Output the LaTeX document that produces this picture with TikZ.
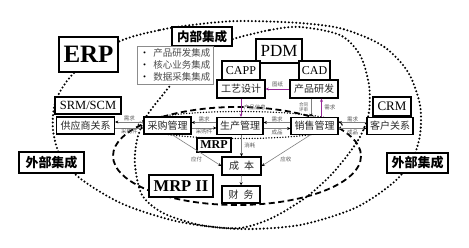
\documentclass[tikz,border=0pt]{standalone}
\usepackage{fontspec}
\setmainfont{Liberation Serif}
\newfontfamily\cjk{Noto Sans CJK SC}
\usetikzlibrary{arrows.meta}
\pgfdeclarelayer{bg}
\pgfsetlayers{bg,main}
\definecolor{pur}{RGB}{150,40,150}
\tikzset{
  box/.style={draw, line width=1.3pt, fill=white, inner sep=0pt, text=black!85,
    font=\cjk\fontsize{10}{12}\selectfont},
  latbox/.style={box, text=black, font=\fontsize{12}{14}\selectfont},
  boldbox/.style={box, line width=1.6pt, text=black, font=\bfseries\fontsize{12}{14}\selectfont},
  cjkbold/.style={box, line width=1.5pt, text=black, font=\cjk\bfseries\fontsize{13}{15}\selectfont},
  lbl/.style={inner sep=0.6pt, text=black!65, font=\cjk\fontsize{5.5}{6}\selectfont},
  garr/.style={draw=black!50, line width=0.6pt, -{Stealth[length=3.2pt,width=3pt,black]}},
  parr/.style={draw=pur, line width=0.7pt, -{Stealth[length=3.2pt,width=3pt,pur]}},
  bigdots/.style={line width=2.3pt, line cap=round, dash pattern=on 0pt off 3.7pt},
  smalldots/.style={line width=1.5pt, line cap=round, dash pattern=on 0pt off 2.8pt},
  dashell/.style={line width=1.8pt, dash pattern=on 6pt off 3.5pt}
}
\begin{document}
\begin{tikzpicture}[x=1pt,y=-1pt]
\useasboundingbox (0,0) rectangle (469,248);

% boxes
\node[boldbox, line width=1.7pt, minimum width=59pt, minimum height=35pt,
  font=\bfseries\fontsize{25}{25}\selectfont] (erp) at (88.5,54.5) {ERP};
\node[cjkbold, minimum width=60pt, minimum height=19pt, font=\cjk\bfseries\fontsize{12.5}{14}\selectfont] (nbjc) at (202,36.5) {内部集成};
\node[draw=black!45, line width=0.6pt, fill=white, minimum width=76pt, minimum height=38pt,
  inner sep=0pt, align=left, text=black!70, font=\cjk\fontsize{9.5}{12}\selectfont] (blt) at (175,65)
  {{\color{black}•}\hspace{4pt}产品研发集成\\{\color{black}•}\hspace{4pt}核心业务集成\\{\color{black}•}\hspace{4pt}数据采集集成};
\node[latbox, minimum width=46pt, minimum height=24pt, font=\fontsize{17}{18}\selectfont] (pdm) at (279,51) {PDM};
\node[latbox, minimum width=38pt, minimum height=19pt] (capp) at (241,70.5) {CAPP};
\node[latbox, minimum width=31pt, minimum height=19pt] (cad) at (314.5,70.5) {CAD};
\node[box, minimum width=48pt, minimum height=18pt] (gysj) at (241,89) {工艺设计};
\node[box, minimum width=48pt, minimum height=18pt] (cpyf) at (314,89) {产品研发};
\node[latbox, minimum width=66pt, minimum height=17pt, font=\fontsize{12.5}{14}\selectfont] (srm) at (88,105.5) {SRM/SCM};
\node[box, minimum width=58pt, minimum height=17pt] (gys) at (85.5,125.5) {供应商关系};
\node[box, minimum width=47pt, minimum height=17pt] (cggl) at (167.5,125.5) {采购管理};
\node[box, minimum width=46pt, minimum height=17pt] (scgl) at (240,126) {生产管理};
\node[box, minimum width=47pt, minimum height=17pt] (xsgl) at (314.5,126) {销售管理};
\node[box, minimum width=46pt, minimum height=17pt] (khgx) at (390,126) {客户关系};
\node[latbox, minimum width=38pt, minimum height=19pt, font=\fontsize{13}{14}\selectfont] (crm) at (392,106.5) {CRM};
\node[boldbox, minimum width=34pt, minimum height=14pt] (mrp) at (214,145) {MRP};
\node[box, minimum width=39pt, minimum height=18pt] (cb) at (241.5,166) {成\hspace{5pt}本};
\node[box, minimum width=38pt, minimum height=17pt] (cw) at (241,194.5) {财\hspace{5pt}务};
\node[boldbox, minimum width=64pt, minimum height=22pt, font=\bfseries\fontsize{16.5}{18}\selectfont] (mrpii) at (181,186) {MRP II};
\node[cjkbold, minimum width=65pt, minimum height=21pt] (wbl) at (51.5,162.5) {外部集成};
\node[cjkbold, minimum width=61pt, minimum height=20pt] (wbr) at (417.5,163) {外部集成};

% background curves
\begin{pgfonlayer}{bg}
\draw[bigdots] plot[smooth cycle] coordinates {
  (118,42) (160,30) (200,24) (240,21) (300,23) (343,29) (383,46) (408,72)
  (420,105) (420,135) (412,160) (393,183) (355,208) (300,225) (240,229)
  (180,222) (125,205) (85,182) (62,160) (53,130) (56,100) (75,72)};
\draw[bigdots] plot[smooth cycle] coordinates {
  (233,39) (270,30) (300,27) (340,35) (360,55) (369,85) (369,112) (362,133)
  (350,152) (330,176) (305,198) (272,218) (240,228) (200,225) (163,213)
  (142,195) (135,165) (137,140) (146,117) (165,92) (185,68) (205,50)};
\draw[dashell] (237,156) ellipse [x radius=124, y radius=49];
\draw[smalldots] (240,125) ellipse [x radius=102, y radius=13.5];
\end{pgfonlayer}

% horizontal flows
\draw[garr] ([yshift=3.5pt]cggl.west) -- ([yshift=3.5pt]cggl.west -| gys.east) node[lbl, midway, above] {需求};
\draw[garr] ([yshift=-2.5pt]gys.east) -- ([yshift=-2.5pt]gys.east -| cggl.west) node[lbl, midway, below] {采购件};
\draw[garr] ([yshift=3.5pt]scgl.west) -- ([yshift=3.5pt]scgl.west -| cggl.east) node[lbl, midway, above] {需求};
\draw[garr] ([yshift=-2.5pt]cggl.east) -- ([yshift=-2.5pt]cggl.east -| scgl.west) node[lbl, midway, below] {采购件};
\draw[garr] ([yshift=3.5pt]xsgl.west) -- ([yshift=3.5pt]xsgl.west -| scgl.east) node[lbl, midway, above] {需求};
\draw[garr] ([yshift=-2.5pt]scgl.east) -- ([yshift=-2.5pt]scgl.east -| xsgl.west) node[lbl, midway, below] {成品};
\draw[garr] ([yshift=3.5pt]khgx.west) -- ([yshift=3.5pt]khgx.west -| xsgl.east) node[lbl, midway, above] {需求};
\draw[garr] ([yshift=-2.5pt]xsgl.east) -- ([yshift=-2.5pt]xsgl.east -| khgx.west) node[lbl, midway, below] {成品};

% design flows
\draw[parr] (cpyf.west) -- (gysj.east) node[lbl, midway, above=1pt] {图纸};
\draw[parr] (gysj.south) -- (gysj.south |- scgl.north) node[lbl, midway, right=2pt] {产品信息};
\draw[garr] ([xshift=-3pt]cpyf.south) -- ([xshift=-3pt]cpyf.south |- xsgl.north)
  node[lbl, midway, left=2pt, align=center, font=\cjk\fontsize{4.5}{5}\selectfont] {合同\\评审};
\draw[parr] ([xshift=7pt]xsgl.north) -- ([xshift=7pt]xsgl.north |- cpyf.south) node[lbl, midway, right=2pt] {需求};

% cost flows
\draw[garr] (scgl.south -| cb.north) -- (cb.north) node[lbl, midway, right=2pt] {消耗};
\draw[garr] ([xshift=4.5pt]cggl.south) -- (cb.west) node[lbl, pos=0.65, below left=1pt] {应付};
\draw[garr] ([xshift=-4.5pt]xsgl.south) -- (cb.east) node[lbl, pos=0.65, below right=1pt] {应收};
\draw[garr] (cb.south) -- (cw.north);
\end{tikzpicture}
\end{document}
